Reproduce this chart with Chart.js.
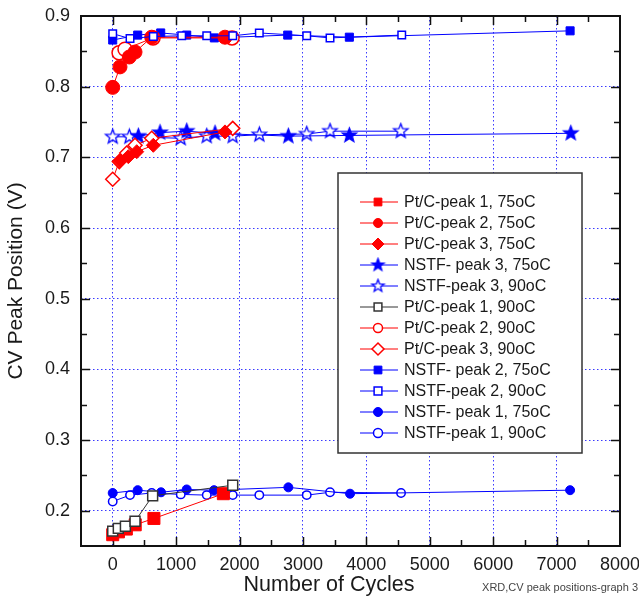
<!DOCTYPE html>
<html>
<head>
<meta charset="utf-8">
<script src="https://cdn.jsdelivr.net/npm/chart.js@4.4.1/dist/chart.umd.min.js"></script>
<style>
html,body{margin:0;padding:0;background:#fff}
</style>
</head>
<body>
<canvas id="myChart" width="639" height="598"></canvas>
<script>
// axis ticks
const xTicks = [0,1000,2000,3000,4000,5000,6000,7000,8000]
const xTickLabels = ['0','1000','2000','3000','4000','5000','6000','7000','8000']
const yTicks = [0.2,0.3,0.4,0.5,0.6,0.7,0.8,0.9]
const yTickLabels = ['0.2','0.3','0.4','0.5','0.6','0.7','0.8','0.9']

const seriesNames = [
  'Pt/C-peak 1, 75oC','Pt/C-peak 2, 75oC','Pt/C-peak 3, 75oC',
  'NSTF- peak 3, 75oC','NSTF-peak 3, 90oC','Pt/C-peak 1, 90oC',
  'Pt/C-peak 2, 90oC','Pt/C-peak 3, 90oC','NSTF- peak 2, 75oC',
  'NSTF-peak 2, 90oC','NSTF- peak 1, 75oC','NSTF-peak 1, 90oC'
]

// 데이터 (cycles, V)
const ptc1_75_x = [0,90,215,355,650,1745]
const ptc1_75_y = [0.166,0.170,0.174,0.180,0.189,0.224]
const ptc2_75_x = [0,115,262,352,615,1771]
const ptc2_75_y = [0.799,0.828,0.842,0.849,0.870,0.870]
const ptc3_75_x = [115,246,379,640,1771]
const ptc3_75_y = [0.695,0.701,0.708,0.717,0.736]
const nstf3_75_x = [404,746,1167,1614,2770,3732,7224]
const nstf3_75_y = [0.730,0.735,0.737,0.734,0.730,0.731,0.734]
const nstf3_90_x = [0,262,1073,1483,1893,2312,3060,3427,4543]
const nstf3_90_y = [0.729,0.729,0.727,0.730,0.730,0.732,0.733,0.737,0.737]
const ptc1_90_x = [0,88,200,352,630,1893]
const ptc1_90_y = [0.171,0.175,0.178,0.185,0.221,0.236]
const ptc2_90_x = [100,194,636,1882]
const ptc2_90_y = [0.848,0.853,0.869,0.869]
const ptc3_90_x = [0,104,221,352,615,1893]
const ptc3_90_y = [0.669,0.694,0.706,0.717,0.727,0.741]
const nstf2_75_x = [0,394,757,1167,1603,2760,3732,7213]
const nstf2_75_y = [0.866,0.873,0.876,0.873,0.869,0.873,0.870,0.879]
const nstf2_90_x = [0,273,640,1088,1483,1893,2312,3060,3427,4558]
const nstf2_90_y = [0.875,0.868,0.871,0.872,0.872,0.872,0.876,0.872,0.869,0.873]
const nstf1_75_x = [0,394,762,1167,1598,2770,3743,7213]
const nstf1_75_y = [0.225,0.229,0.226,0.230,0.229,0.233,0.224,0.229]
const nstf1_90_x = [0,273,615,1073,1483,1893,2312,3060,3427,4547]
const nstf1_90_y = [0.213,0.222,0.225,0.223,0.222,0.222,0.222,0.222,0.226,0.225]

const RED = '#ff0000'
const BLUE = '#0000ff'
const GREY = '#333333'
const FONT = '"Liberation Sans", Arial, sans-serif'

function pts(xs, ys){
  return xs.map((x,i)=>({x, y: ys[i]}))
}

// 별 모양 포인트
function starImage(r, filled, color){
  const c = document.createElement('canvas')
  const s = Math.ceil(2*r + 4)
  c.width = s; c.height = s
  const g = c.getContext('2d')
  g.beginPath()
  for(let k=0;k<10;k++){
    const rr = k%2===0 ? r : r*0.42
    const a = -Math.PI/2 + k*Math.PI/5
    const px = s/2 + rr*Math.cos(a), py = s/2 + rr*Math.sin(a)
    k===0 ? g.moveTo(px,py) : g.lineTo(px,py)
  }
  g.closePath()
  g.fillStyle = filled ? color : '#fff'
  g.fill()
  g.lineWidth = 1.3
  g.strokeStyle = color
  g.stroke()
  return c
}

function series(label, data, color, lineColor, style, radius, filled, order, legendRadius, legendStyle){
  return {
    label, data, order,
    showLine: true,
    borderColor: lineColor,
    borderWidth: 1,
    pointStyle: style,
    pointRadius: radius,
    pointBackgroundColor: filled ? color : '#fff',
    pointBorderColor: color,
    pointBorderWidth: filled ? 1 : 1.5,
    legendRadius,
    legendStyle: legendStyle || style
  }
}

const datasets = [
  series(seriesNames[0], pts(ptc1_75_x,ptc1_75_y), RED, RED, 'rect', 8.5, true, 2, 5.5),
  series(seriesNames[1], pts(ptc2_75_x,ptc2_75_y), RED, RED, 'circle', 7, true, 2, 4.5),
  series(seriesNames[2], pts(ptc3_75_x,ptc3_75_y), RED, RED, 'rectRot', 7, true, 2, 6),
  series(seriesNames[3], pts(nstf3_75_x,nstf3_75_y), BLUE, BLUE, starImage(7.5,true,BLUE), 7, true, 3, 6, starImage(6.5,true,BLUE)),
  series(seriesNames[4], pts(nstf3_90_x,nstf3_90_y), BLUE, BLUE, starImage(7.5,false,BLUE), 7, false, 3, 6, starImage(6.5,false,BLUE)),
  series(seriesNames[5], pts(ptc1_90_x,ptc1_90_y), GREY, GREY, 'rect', 7, false, 0, 5.5),
  series(seriesNames[6], pts(ptc2_90_x,ptc2_90_y), RED, RED, 'circle', 7, false, 2, 4.5),
  series(seriesNames[7], pts(ptc3_90_x,ptc3_90_y), RED, RED, 'rectRot', 7, false, 2, 6),
  series(seriesNames[8], pts(nstf2_75_x,nstf2_75_y), BLUE, BLUE, 'rect', 5.7, true, 3, 5.5),
  series(seriesNames[9], pts(nstf2_90_x,nstf2_90_y), BLUE, BLUE, 'rect', 5.3, false, 1, 5.5),
  series(seriesNames[10], pts(nstf1_75_x,nstf1_75_y), BLUE, BLUE, 'circle', 4.5, true, 3, 4.5),
  series(seriesNames[11], pts(nstf1_90_x,nstf1_90_y), BLUE, BLUE, 'circle', 4.2, false, 3, 4.5)
]

// 테두리 + 안쪽 눈금
const framePlugin = {
  id: 'frame',
  beforeDatasetsDraw(chart){
    const {ctx, chartArea: a, scales: {x, y}} = chart
    ctx.save()
    ctx.strokeStyle = '#111'
    ctx.lineWidth = 1.5
    ctx.beginPath()
    for(let v = x.min + 500; v < x.max; v += 500){
      const px = Math.round(x.getPixelForValue(v)) + 0.5
      const len = v % 1000 === 0 ? 9 : 6
      ctx.moveTo(px, a.bottom); ctx.lineTo(px, a.bottom - len)
      ctx.moveTo(px, a.top); ctx.lineTo(px, a.top + len)
    }
    for(let k = 1; k < 15; k++){
      const v = y.min + k*0.05
      const py = Math.round(y.getPixelForValue(v)) + 0.5
      const len = k % 2 === 1 ? 9 : 6
      ctx.moveTo(a.left, py); ctx.lineTo(a.left + len, py)
      ctx.moveTo(a.right, py); ctx.lineTo(a.right - len, py)
    }
    ctx.stroke()
    ctx.lineWidth = 2
    ctx.strokeRect(a.left, a.top, a.right - a.left, a.bottom - a.top)
    ctx.restore()
  }
}

const legendPlugin = {
  id: 'boxLegend',
  afterDraw(chart){
    const {ctx, chartArea: a} = chart
    const bx = a.left + 257, by = a.top + 157, bw = 244, bh = 280
    ctx.save()
    ctx.fillStyle = '#fff'
    ctx.fillRect(bx, by, bw, bh)
    ctx.strokeStyle = '#333'
    ctx.lineWidth = 1.5
    ctx.strokeRect(bx, by, bw, bh)
    chart.data.datasets.forEach((ds, i) => {
      const ly = by + 29 + i*21
      ctx.strokeStyle = ds.borderColor
      ctx.lineWidth = 1
      ctx.beginPath(); ctx.moveTo(bx + 22, ly); ctx.lineTo(bx + 60, ly); ctx.stroke()
      ctx.fillStyle = ds.pointBackgroundColor
      ctx.strokeStyle = ds.pointBorderColor
      ctx.lineWidth = ds.pointBorderWidth
      Chart.helpers.drawPoint(ctx, {pointStyle: ds.legendStyle, radius: ds.legendRadius, borderWidth: ds.pointBorderWidth, rotation: 0}, bx + 40, ly)
      ctx.fillStyle = '#1a1a1a'
      ctx.font = '16px ' + FONT
      ctx.textAlign = 'left'
      ctx.textBaseline = 'middle'
      ctx.fillText(ds.label, bx + 66, ly + 1)
    })
    // x축 제목 (원본처럼 살짝 왼쪽)
    ctx.fillStyle = '#1a1a1a'
    ctx.font = '21.5px ' + FONT
    ctx.textAlign = 'center'
    ctx.textBaseline = 'middle'
    ctx.fillText('Number of Cycles', 329, 585)
    // 오른쪽 아래 메모
    ctx.fillStyle = '#444'
    ctx.font = '11px ' + FONT
    ctx.textAlign = 'right'
    ctx.textBaseline = 'alphabetic'
    ctx.fillText('XRD,CV peak positions-graph 3', 638, 591)
    ctx.restore()
  }
}

Chart.defaults.font.family = FONT
Chart.defaults.color = '#1a1a1a'

const ctx = document.getElementById('myChart')
new Chart(ctx, {
  type: 'scatter',
  data: { datasets },
  options: {
    responsive: false,
    devicePixelRatio: 1,
    animation: false,
    events: [],
    layout: { padding: { top: 16, right: 19, left: 0, bottom: 0 } },
    plugins: { legend: { display: false }, tooltip: { enabled: false } },
    scales: {
      x: {
        type: 'linear', min: -500, max: 8000,
        afterBuildTicks: s => { s.ticks = xTicks.map(v => ({value: v})) },
        afterFit: s => { s.height = 52; s.paddingLeft = 0; s.paddingRight = 0 },
        ticks: { autoSkip: false, maxRotation: 0, padding: 8, font: { size: 18 },
          callback: (v, i) => xTickLabels[i] },
        grid: { color: c => (c.tick && c.tick.value === 8000) ? 'rgba(0,0,0,0)' : '#3a3aff', lineWidth: 1, drawTicks: false },
        border: { display: false, dash: [1.5, 2.5] },
        title: { display: false }
      },
      y: {
        type: 'linear', min: 0.15, max: 0.9,
        afterBuildTicks: s => { s.ticks = yTicks.map(v => ({value: v})) },
        afterFit: s => { s.width = 81; s.paddingTop = 0; s.paddingBottom = 0 },
        ticks: { autoSkip: false, padding: 11, font: { size: 18 },
          callback: (v, i) => yTickLabels[i] },
        grid: { color: c => (c.tick && c.tick.value === 0.9) ? 'rgba(0,0,0,0)' : '#3a3aff', lineWidth: 1, drawTicks: false },
        border: { display: false, dash: [1.5, 2.5] },
        title: { display: true, text: 'CV Peak Position (V)', font: { size: 21 }, padding: { top: 4, bottom: 0 } }
      }
    }
  },
  plugins: [framePlugin, legendPlugin]
})
</script>
</body>
</html>
